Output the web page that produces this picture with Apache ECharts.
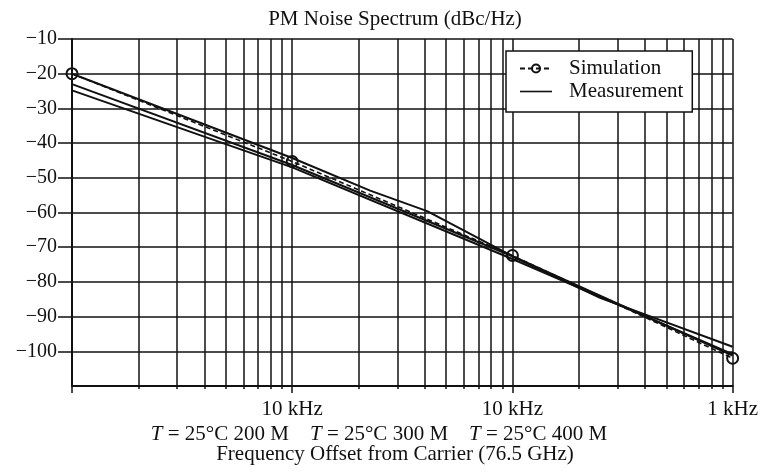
<!DOCTYPE html>
<html>
<head>
<meta charset="utf-8">
<script src="https://cdn.jsdelivr.net/npm/echarts@6/dist/echarts.min.js"></script>
<style>html,body{margin:0;padding:0;background:#fff}#c{width:761px;height:475px}</style>
</head>
<body>
<div id="c"></div>
<script>
// ---- data ----
const titleText = 'PM Noise Spectrum (dBc/Hz)';
const xAxisTitle = 'Frequency Offset from Carrier (76.5 GHz)';
const tempLabels = ['200 M', '300 M', '400 M'];
const xLabelValues = [10, 100, 1000];
const xLabelTexts = ['10 kHz', '10 kHz', '1 kHz'];
const decadeValues = [1, 10, 100, 1000];
const yTickValues = [-100, -90, -80, -70, -60, -50, -40, -30, -20, -10];

const simX = [1, 10, 100, 1000];
const simY = [-20, -45.3, -72.4, -102];

const m200X = [1, 10, 22.6, 41, 100, 1000];
const m200Y = [-20, -44.3, -53.7, -59.6, -72.6, -101.2];
const m300X = [1, 10, 100, 250, 1000];
const m300Y = [-23, -46.3, -72.6, -84.6, -98.7];
const m400X = [1, 10, 100, 1000];
const m400Y = [-24.8, -47, -73.4, -100.8];

// minor grid positions (1..9 per decade)
const minorValues = [];
decadeValues.slice(0, 3).forEach(d => { for (let k = 1; k <= 9; k++) minorValues.push(d * k); });
minorValues.push(1000);

const pair = (xs, ys) => xs.map((x, i) => [x, ys[i]]);
const ink = '#111';
const font = 'Liberation Serif';

const chart = echarts.init(document.getElementById('c'));
chart.setOption({
  animation: false,
  backgroundColor: '#fff',
  textStyle: { fontFamily: font, color: ink },
  grid: { left: 72, right: 28, top: 39, bottom: 89, containLabel: false },
  xAxis: [{
    type: 'log', logBase: 10, min: 1, max: 1000,
    axisLine: { show: true, lineStyle: { color: ink, width: 2 } },
    axisTick: { show: true, length: 3, customValues: minorValues, lineStyle: { color: ink, width: 1.5 } },
    splitLine: { show: true, lineStyle: { color: ink, width: 1.5 } },
    minorSplitLine: { show: false },
    axisLabel: {
      customValues: xLabelValues, margin: 13, fontSize: 21, color: ink, fontFamily: font,
      formatter: v => { const i = xLabelValues.findIndex(t => Math.abs(t - v) < 1e-6 * t); return i >= 0 ? xLabelTexts[i] : ''; }
    }
  }, {
    type: 'log', logBase: 10, min: 1, max: 1000, position: 'bottom',
    axisLine: { show: false },
    axisTick: { show: true, length: 7, customValues: decadeValues, lineStyle: { color: ink, width: 1.5 } },
    splitLine: { show: false },
    axisLabel: { show: false }
  }],
  yAxis: {
    type: 'value', min: -110, max: -10, interval: 10,
    axisLine: { show: true, lineStyle: { color: ink, width: 2 } },
    axisTick: { show: true, length: 14, customValues: yTickValues, lineStyle: { color: ink, width: 1.5 } },
    splitLine: { show: true, lineStyle: { color: ink, width: 1.5 } },
    axisLabel: {
      customValues: yTickValues, margin: 15, fontSize: 20, color: ink, fontFamily: font,
      formatter: v => String(v).replace('-', '\u2212')
    }
  },
  legend: {
    orient: 'vertical', left: 506, top: 51,
    padding: [7, 9, 10, 13], itemGap: 2,
    backgroundColor: '#fff', borderColor: ink, borderWidth: 1.5,
    itemWidth: 32, itemHeight: 10,
    textStyle: { fontFamily: font, fontSize: 21, color: ink, padding: [0, 0, 0, 12] },
    data: [
      { name: 'Simulation' },
      { name: 'Measurement', icon: 'path://M0,0 H32 V1.6 H0 Z', itemStyle: { color: ink, borderWidth: 0 } }
    ]
  },
  graphic: [
    { type: 'text', x: 395, y: 19, style: { text: titleText, align: 'center', verticalAlign: 'middle', font: '21px "Liberation Serif"', fill: ink } },
    { type: 'text', x: 379, y: 434, style: {
      text: tempLabels.map(t => '{i|T} = 25\u00B0C ' + t).join('    '),
      align: 'center', verticalAlign: 'middle', fill: ink,
      font: '21px "Liberation Serif"',
      rich: { i: { fontStyle: 'italic', fontFamily: font, fontSize: 21, fill: ink } }
    } },
    { type: 'text', x: 395, y: 454, style: { text: xAxisTitle, align: 'center', verticalAlign: 'middle', font: '21px "Liberation Serif"', fill: ink } }
  ],
  series: [
    { name: 'Simulation', type: 'line', data: pair(simX, simY), z: 5,
      lineStyle: { color: ink, width: 1.6, type: [5, 3] },
      symbol: 'circle', symbolSize: 11, showSymbol: true,
      itemStyle: { color: 'rgba(255,255,255,0)', borderColor: ink, borderWidth: 2 } },
    { name: 'Measurement', type: 'line', data: pair(m200X, m200Y), symbol: 'none', z: 4,
      lineStyle: { color: ink, width: 2 }, itemStyle: { color: ink } },
    { name: 'Measurement', type: 'line', data: pair(m300X, m300Y), symbol: 'none', z: 4,
      lineStyle: { color: ink, width: 2 }, itemStyle: { color: ink } },
    { name: 'Measurement', type: 'line', data: pair(m400X, m400Y), symbol: 'none', z: 4,
      lineStyle: { color: ink, width: 2 }, itemStyle: { color: ink } }
  ]
});
</script>
</body>
</html>
